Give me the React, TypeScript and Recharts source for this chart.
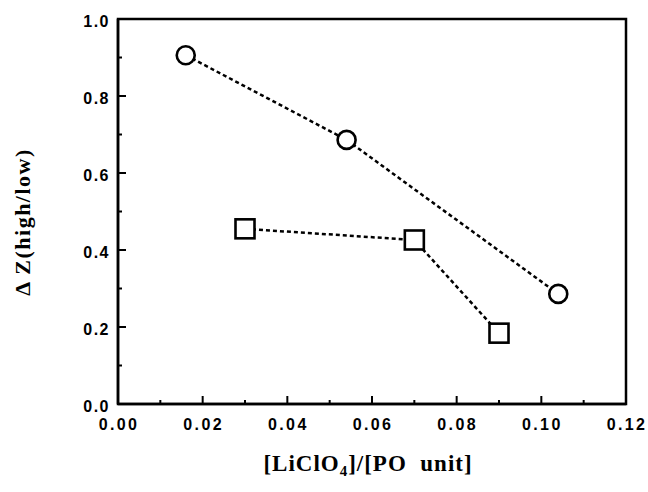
import React from 'react';
import { LineChart, Line, XAxis, YAxis, ReferenceArea, Label } from 'recharts';

const circleX = [0.016, 0.054, 0.104];
const circleY = [0.906, 0.686, 0.286];
const squareX = [0.030, 0.070, 0.090];
const squareY = [0.455, 0.426, 0.184];

const xMajorTicks = [0, 0.02, 0.04, 0.06, 0.08, 0.1, 0.12];
const xMinorTicks = [0.01, 0.03, 0.05, 0.07, 0.09, 0.11];
const yMajorTicks = [0, 0.2, 0.4, 0.6, 0.8, 1.0];
const yMinorTicks = [0.1, 0.3, 0.5, 0.7, 0.9];

const circles = circleX.map((x, i) => ({ x, y: circleY[i] }));
const squares = squareX.map((x, i) => ({ x, y: squareY[i] }));

const xTicks = [...xMajorTicks, ...xMinorTicks].sort((a, b) => a - b);
const yTicks = [...yMajorTicks, ...yMinorTicks].sort((a, b) => a - b);

const isMajor = (v: number, majors: number[]) => majors.some((m) => Math.abs(m - v) < 1e-9);

const tickFont = '"Liberation Sans", Arial, Helvetica, sans-serif';
const titleFont = '"Liberation Serif", "Times New Roman", Times, serif';

const XTick = (props: any) => {
  const { x, y, payload } = props;
  const major = isMajor(payload.value, xMajorTicks);
  return (
    <g>
      <line x1={x} x2={x} y1={y} y2={y - (major ? 8 : 4)} stroke="#000" strokeWidth={2} />
      {major && (
        <text x={x + 1} y={y + 26} textAnchor="middle" fontFamily={tickFont} fontSize={16} fontWeight="bold" letterSpacing={2.4} fill="#000">
          {payload.value.toFixed(2)}
        </text>
      )}
    </g>
  );
};

const YTick = (props: any) => {
  const { x, y, payload } = props;
  const major = isMajor(payload.value, yMajorTicks);
  return (
    <g>
      <line x1={x} x2={x + (major ? 8 : 4)} y1={y} y2={y} stroke="#000" strokeWidth={2} />
      {major && (
        <text x={x - 8} y={y + 2} dy="0.36em" textAnchor="end" fontFamily={tickFont} fontSize={16} fontWeight="bold" letterSpacing={1.5} fill="#000">
          {payload.value.toFixed(1)}
        </text>
      )}
    </g>
  );
};

const CircleDot = (props: any) => {
  const { cx, cy, index } = props;
  return <circle key={`c-${index}`} cx={cx} cy={cy} r={9} fill="#fff" stroke="#000" strokeWidth={2.6} />;
};

const SquareDot = (props: any) => {
  const { cx, cy, index } = props;
  return <rect key={`s-${index}`} x={cx - 9.5} y={cy - 9.5} width={19} height={19} fill="#fff" stroke="#000" strokeWidth={2.6} />;
};

const XTitle = (props: any) => {
  const vb = props.viewBox;
  return (
    <text x={vb.x + vb.width / 2 - 4} y={vb.y + 67} textAnchor="middle" fontFamily={titleFont} fontSize={23} fontWeight="bold" letterSpacing={1} fill="#000">
      [LiClO
      <tspan fontSize={15} dy={5}>4</tspan>
      <tspan dy={-5}>{']/[PO\u00A0 unit]'}</tspan>
    </text>
  );
};

const YTitle = () => {
  const cx = 22;
  const cy = 222;
  return (
    <text x={cx} y={cy} transform={`rotate(-90 ${cx} ${cy})`} textAnchor="middle" dominantBaseline="central" fontFamily={titleFont} fontSize={22} fontWeight="bold" letterSpacing={1.5} fill="#000">
      Δ Z(high/low)
    </text>
  );
};

export default function App() {
  return (
    <div style={{ position: 'absolute', left: 0, top: 0, width: 648, height: 492, background: '#fff' }}>
      <LineChart width={648} height={492} margin={{ top: 19, right: 22, bottom: 0, left: 0 }}>
        <XAxis
          type="number"
          dataKey="x"
          domain={[0, 0.12]}
          ticks={xTicks}
          interval={0}
          tickSize={0}
          tickMargin={0}
          tickLine={false}
          tick={<XTick />}
          height={88}
          axisLine={{ stroke: '#000', strokeWidth: 2.5 }}
          allowDataOverflow
        >
          <Label content={<XTitle />} />
        </XAxis>
        <YAxis
          type="number"
          dataKey="y"
          domain={[0, 1]}
          ticks={yTicks}
          interval={0}
          tickSize={0}
          tickMargin={0}
          tickLine={false}
          tick={<YTick />}
          width={118}
          axisLine={{ stroke: '#000', strokeWidth: 2.5 }}
          allowDataOverflow
        >
          <Label content={<YTitle />} />
        </YAxis>
        <ReferenceArea x1={0} x2={0.12} y1={0} y2={1} fill="none" fillOpacity={0} stroke="#000" strokeWidth={2.5} ifOverflow="visible" />
        <Line
          data={circles}
          dataKey="y"
          type="linear"
          stroke="#000"
          strokeWidth={2.5}
          strokeDasharray="4 3"
          dot={<CircleDot />}
          activeDot={false}
          isAnimationActive={false}
        />
        <Line
          data={squares}
          dataKey="y"
          type="linear"
          stroke="#000"
          strokeWidth={2.5}
          strokeDasharray="4 3"
          dot={<SquareDot />}
          activeDot={false}
          isAnimationActive={false}
        />
      </LineChart>
    </div>
  );
}
